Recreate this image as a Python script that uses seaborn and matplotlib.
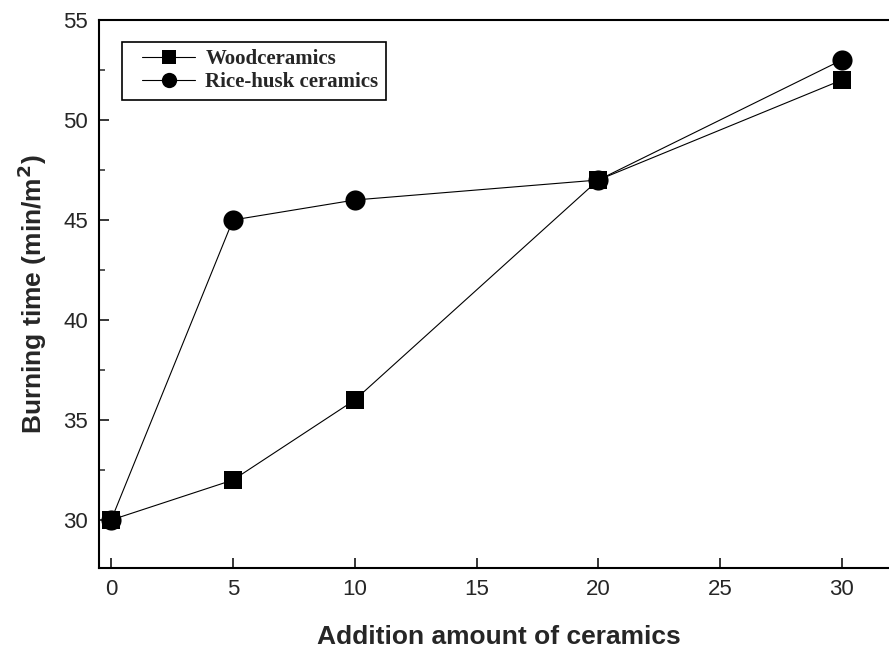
import matplotlib
matplotlib.use('Agg')
import matplotlib.pyplot as plt
from matplotlib.ticker import MultipleLocator
from matplotlib.lines import Line2D
from matplotlib.legend_handler import HandlerLine2D
import numpy as np
import pandas as pd
import seaborn as sns

# Data
addition = [0, 5, 10, 20, 30]
wood_time = [30, 32, 36, 47, 52]
rice_time = [30, 45, 46, 47, 53]
series_names = ['Woodceramics', 'Rice-husk ceramics']

sns.set_style('white')
plt.rcParams['font.family'] = ['Liberation Sans', 'DejaVu Sans']

df = pd.DataFrame({
    'addition': addition * 2,
    'time': rice_time + wood_time,
    'series': [series_names[1]] * len(addition) + [series_names[0]] * len(addition),
})

fig = plt.figure(figsize=(8.89, 6.55), dpi=100)
ax = fig.add_axes([99 / 889, 1 - 568 / 655, 1 - 99 / 889 + 0.01, 548 / 655])

# rice-husk first so the squares sit on top, like the reference
sns.lineplot(data=df, x='addition', y='time', hue='series', style='series',
             markers={series_names[0]: 's', series_names[1]: 'o'},
             dashes=False, palette=['black', 'black'],
             hue_order=[series_names[1], series_names[0]],
             style_order=[series_names[1], series_names[0]],
             linewidth=0.8, markersize=13.5, markeredgewidth=0,
             legend=False, ax=ax)
for ln in ax.lines:
    if ln.get_marker() == 'o':
        ln.set_markersize(14.5)

ax.set_xlim(-0.5, 32.3)
ax.set_ylim(27.6, 55)
ax.xaxis.set_major_locator(MultipleLocator(5))
ax.yaxis.set_major_locator(MultipleLocator(5))
ax.yaxis.set_minor_locator(MultipleLocator(2.5))
ax.tick_params(axis='both', which='major', direction='in', length=7, width=1.3,
               labelsize=16, pad=8)
ax.tick_params(axis='y', which='minor', direction='in', length=4, width=1.1, left=True)
ax.tick_params(axis='x', which='major', bottom=True)
ax.tick_params(axis='y', which='major', left=True)

for side in ['left', 'bottom', 'top']:
    ax.spines[side].set_color('black')
    ax.spines[side].set_linewidth(1.5)
ax.spines['right'].set_visible(False)

ax.set_xlabel('Addition amount of ceramics', fontsize=19, fontweight='bold', labelpad=18)
ax.set_ylabel('Burning time (min/m$^\\mathbf{2}$)', fontsize=19, fontweight='bold', labelpad=10)

handles = [
    Line2D([], [], color='black', lw=0.8, marker='s', markersize=9.5, markeredgewidth=0),
    Line2D([], [], color='black', lw=0.8, marker='o', markersize=11, markeredgewidth=0),
]
ax_w = ax.get_position().width * 889
leg = ax.legend(handles, series_names, loc='upper left',
                bbox_to_anchor=((122 - 99) / ax_w, (568 - 42) / 548), borderaxespad=0,
                frameon=True, fancybox=False, edgecolor='black', framealpha=1,
                prop={'family': 'Liberation Serif', 'weight': 'bold', 'size': 15},
                handler_map={h: HandlerLine2D(xpad=0.62) for h in handles},
                handlelength=3.17, handletextpad=0.48, borderpad=0.35, labelspacing=0.15)
leg.get_frame().set_linewidth(1.2)

fig.savefig('out.png', dpi=100)
